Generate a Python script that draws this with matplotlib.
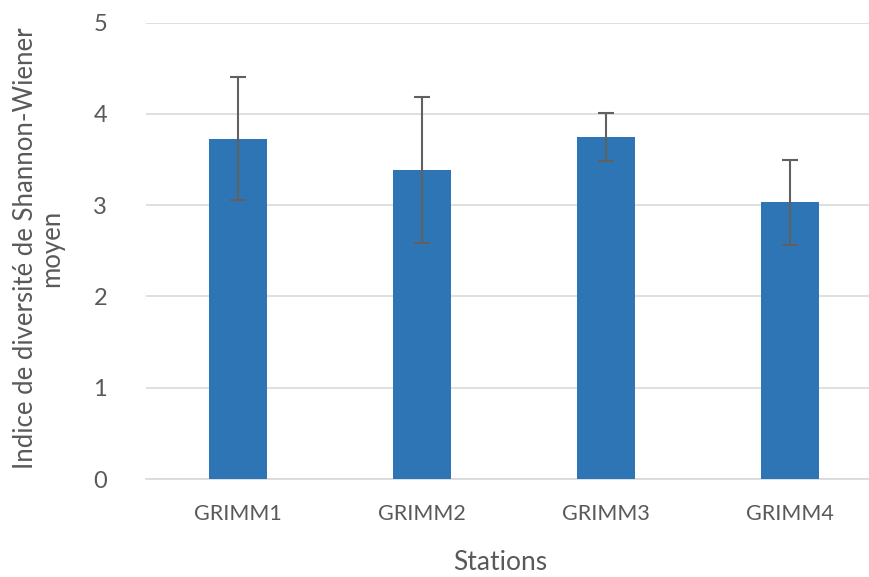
import matplotlib
matplotlib.use("Agg")
import matplotlib.pyplot as plt
import numpy as np

stations = ["GRIMM1", "GRIMM2", "GRIMM3", "GRIMM4"]
shannon_mean = [3.73, 3.39, 3.75, 3.03]
shannon_err = [0.67, 0.80, 0.26, 0.47]
y_ticks = [0, 1, 2, 3, 4, 5]

plt.rcParams["font.family"] = ["Lato", "DejaVu Sans"]
text_color = "#595959"

fig = plt.figure(figsize=(8.70, 5.77), dpi=100)
ax = fig.add_axes([146 / 870, 1 - 479 / 577, 736 / 870, (479 - 22.7) / 577])

x = np.arange(len(stations))
ax.bar(x, shannon_mean, width=0.31, color="#2E75B6", zorder=3)
ax.errorbar(x, shannon_mean, yerr=shannon_err, fmt="none", ecolor="#606060",
            elinewidth=1.5, capsize=6, capthick=1.5, zorder=4)

ax.set_xlim(-0.5, 3.5)
ax.set_ylim(0, 5)
ax.set_yticks(y_ticks)
ax.set_xticks(x)
ax.set_xticklabels(stations)
ax.grid(axis="y", color="#D9D9D9", linewidth=1.2, zorder=0)
for s in ["top", "right", "left"]:
    ax.spines[s].set_visible(False)
ax.spines["bottom"].set_color("#D9D9D9")
ax.spines["bottom"].set_linewidth(1.2)
ax.tick_params(axis="both", length=0, colors=text_color)
ax.tick_params(axis="y", labelsize=17, pad=28)
ax.tick_params(axis="x", labelsize=15.5, pad=18)

fig.text(500 / 870, 1 - 563 / 577, "Stations", ha="center", va="center",
         fontsize=19, color=text_color)
fig.text(39 / 870, 1 - 248 / 577, "Indice de diversité de Shannon-Wiener\nmoyen",
         ha="center", va="center", rotation=90, fontsize=18.5, color=text_color,
         multialignment="center", linespacing=1.05)

fig.savefig("out.png", dpi=100)
